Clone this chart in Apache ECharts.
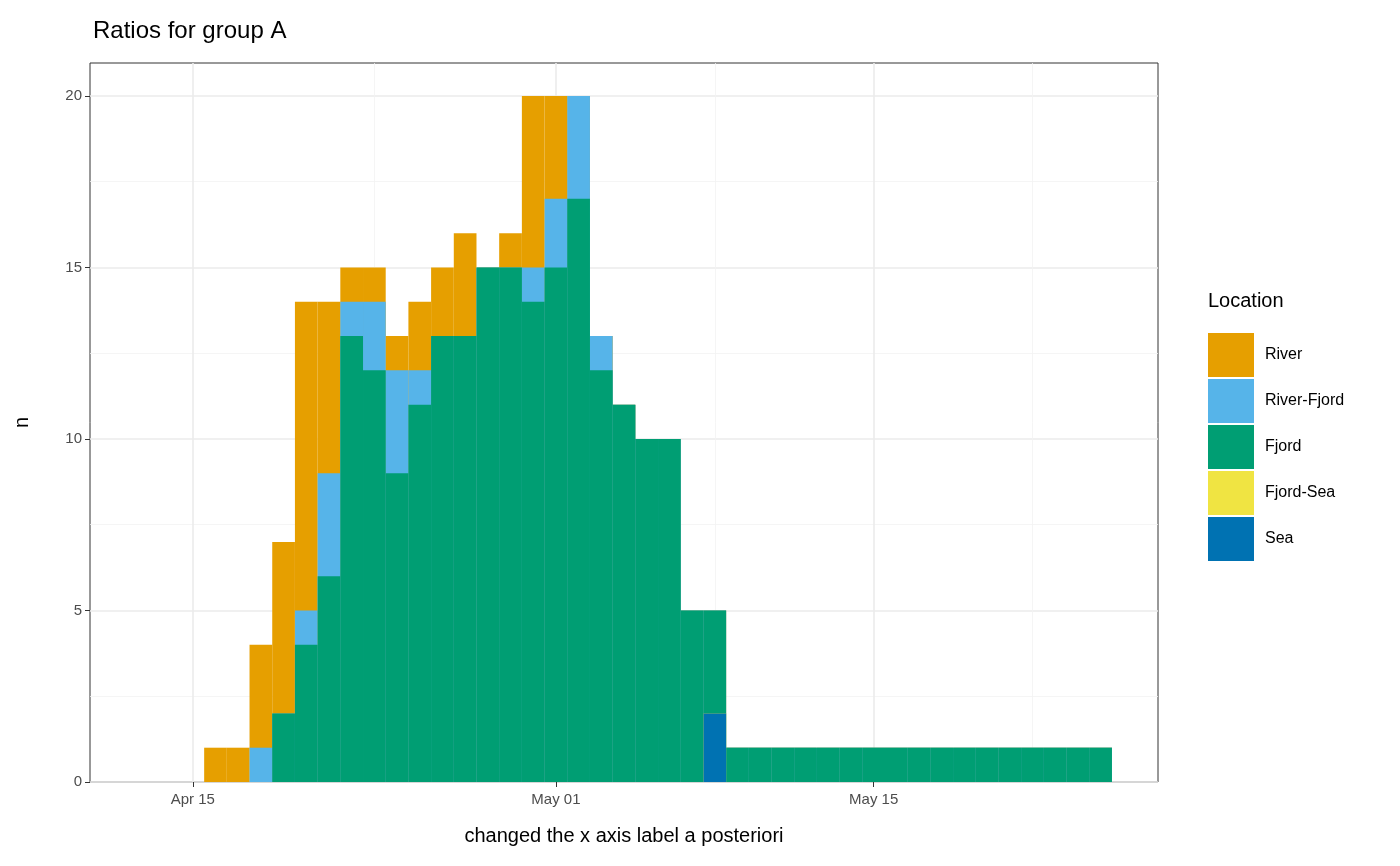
<!DOCTYPE html>
<html>
<head>
<meta charset="utf-8">
<script src="https://cdn.jsdelivr.net/npm/echarts@6/dist/echarts.min.js"></script>
<style>html,body{margin:0;padding:0;background:#fff}#container{width:1400px;height:866px}</style>
</head>
<body>
<div id="container"></div>
<script>
// days relative to Apr 15 (bin centers, 1-day bins)
var days = [];
for (var d = -2; d <= 40; d++) days.push(d);

var river      = [0,0,0,1,1,3,5,9,5,1,1,1,2,2,3,0,1,5,3,0,0,0,0,0,0,0,0,0,0,0,0,0,0,0,0,0,0,0,0,0,0,0,0];
var riverFjord = [0,0,0,0,0,1,0,1,3,1,2,3,1,0,0,0,0,1,2,3,1,0,0,0,0,0,0,0,0,0,0,0,0,0,0,0,0,0,0,0,0,0,0];
var fjord      = [0,0,0,0,0,0,2,4,6,13,12,9,11,13,13,15,15,14,15,17,12,11,10,10,5,3,1,1,1,1,1,1,1,1,1,1,1,1,1,1,1,1,1];
var fjordSea   = [0,0,0,0,0,0,0,0,0,0,0,0,0,0,0,0,0,0,0,0,0,0,0,0,0,0,0,0,0,0,0,0,0,0,0,0,0,0,0,0,0,0,0];
var sea        = [0,0,0,0,0,0,0,0,0,0,0,0,0,0,0,0,0,0,0,0,0,0,0,0,0,2,0,0,0,0,0,0,0,0,0,0,0,0,0,0,0,0,0];

var tickDays = [0, 16, 30];
var tickLabels = ['Apr 15', 'May 01', 'May 15'];
var minorDays = [8, 23, 37];
var yTicks = [0, 5, 10, 15, 20];

var colors = {
    'River': '#E69F00',
    'River-Fjord': '#56B4E9',
    'Fjord': '#009E73',
    'Fjord-Sea': '#F0E442',
    'Sea': '#0072B2'
};

// stacked from the bottom: Sea, Fjord-Sea, Fjord, River-Fjord, River
var layers = [['Sea', sea], ['Fjord-Sea', fjordSea], ['Fjord', fjord], ['River-Fjord', riverFjord], ['River', river]];
var cum = days.map(function () { return 0; });
var tops = {};
layers.forEach(function (l) {
    cum = cum.map(function (c, i) { return c + l[1][i]; });
    tops[l[0]] = cum.slice();
});

function barSeries(name) {
    return {
        name: name,
        type: 'bar',
        data: days.map(function (d, i) { return [d, tops[name][i]]; }),
        barWidth: '100%',
        barGap: '-100%',
        itemStyle: { color: colors[name] },
        zlevel: 1
    };
}

var gridLines = tickDays.map(function (d) {
    return { xAxis: d, lineStyle: { color: '#ebebeb', width: 1.6, type: 'solid' } };
}).concat(minorDays.map(function (d) {
    return { xAxis: d, lineStyle: { color: '#f2f2f2', width: 0.8, type: 'solid' } };
}));

var dom = document.getElementById('container');
var myChart = echarts.init(dom);
var option = {
    backgroundColor: '#fff',
    animation: false,
    textStyle: { fontFamily: 'Liberation Sans, Arial, sans-serif' },
    title: [{
        text: 'Ratios for group A',
        left: 88, top: 14,
        textStyle: { fontSize: 24, fontWeight: 'normal', color: '#000' }
    }, {
        text: 'Location',
        left: 1203, top: 286,
        textStyle: { fontSize: 20, fontWeight: 'normal', color: '#000' }
    }],
    legend: {
        orient: 'vertical',
        left: 1203, top: 328,
        itemWidth: 46, itemHeight: 44, itemGap: 2,
        icon: 'rect',
        data: ['River', 'River-Fjord', 'Fjord', 'Fjord-Sea', 'Sea'],
        textStyle: { fontSize: 16, color: '#000', padding: [0, 0, 0, 6] }
    },
    grid: {
        left: 90, right: 242, top: 63, bottom: 84,
        show: true, borderColor: '#333', borderWidth: 1, backgroundColor: '#fff'
    },
    xAxis: {
        type: 'value',
        min: -4.53, max: 42.53,
        name: 'changed the x axis label a posteriori',
        nameLocation: 'middle', nameGap: 44,
        nameTextStyle: { fontSize: 20, color: '#000' },
        axisLine: { show: false, onZero: false },
        splitLine: { show: false },
        axisTick: { show: true, length: 5, lineStyle: { color: '#333' }, customValues: tickDays },
        axisLabel: {
            fontSize: 15, color: '#4d4d4d', margin: 10,
            customValues: tickDays,
            formatter: function (v) { return tickLabels[tickDays.indexOf(v)]; }
        }
    },
    yAxis: {
        type: 'value',
        min: 0, max: 20.96, interval: 5,
        name: 'n',
        nameLocation: 'middle', nameGap: 58, nameRotate: 90,
        nameTextStyle: { fontSize: 20, color: '#000' },
        axisLine: { show: false, onZero: false },
        axisTick: { show: true, length: 5, lineStyle: { color: '#333' }, customValues: yTicks },
        axisLabel: { fontSize: 15, color: '#4d4d4d', margin: 8, customValues: yTicks },
        splitLine: { show: true, lineStyle: { color: '#ebebeb', width: 1.6 } },
        minorTick: { show: false, splitNumber: 2 },
        minorSplitLine: { show: true, lineStyle: { color: '#f2f2f2', width: 0.8 } }
    },
    series: [
        {
            name: 'grid',
            type: 'line',
            data: [],
            silent: true,
            markLine: { silent: true, symbol: 'none', label: { show: false }, data: gridLines }
        },
        barSeries('River'),
        barSeries('River-Fjord'),
        barSeries('Fjord'),
        barSeries('Fjord-Sea'),
        barSeries('Sea')
    ]
};

if (option && typeof option === 'object') {
    myChart.setOption(option, true);
}
</script>
</body>
</html>
